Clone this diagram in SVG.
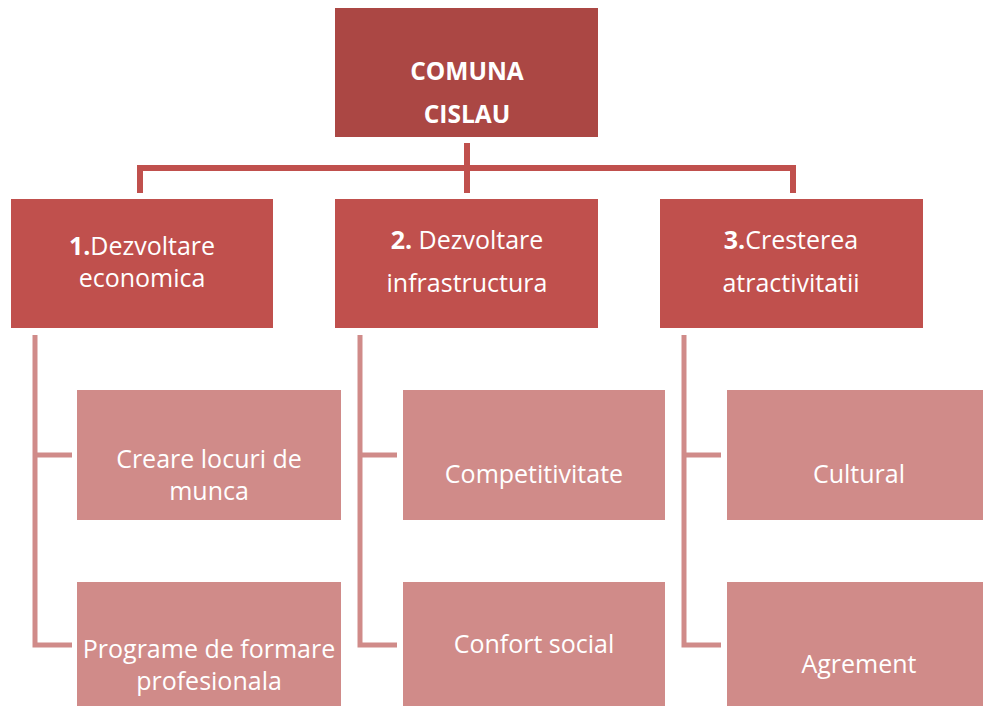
<svg xmlns="http://www.w3.org/2000/svg" width="983" height="706" viewBox="0 0 983 706">
<style>
.root{fill:#AB4744}
.l2{fill:#C0504D}
.l3{fill:#D08B89}
.t{fill:#fff;font-family:"Open Sans","Liberation Sans",sans-serif;text-anchor:middle}
.tr{font-size:24.5px;font-weight:bold}
.t2{font-size:25px}
.t3{font-size:25px}
.c1{stroke:#C0504D;stroke-width:6;fill:none}
.c2{stroke:#D08B89;stroke-width:5;fill:none}
</style>
<rect width="983" height="706" fill="#fff"/>
<g id="connectors">
<path class="c1" d="M467,143V193M140,193V168H793V193"/>
<path class="c2" d="M35,335V645H72M35,455H72"/>
<path class="c2" d="M360,335V645H397M360,455H397"/>
<path class="c2" d="M684,335V645H721M684,455H721"/>
</g>
<g id="root">
<rect class="root" x="335" y="8" width="263" height="129"/>
<text class="t tr" x="467" y="80">COMUNA</text>
<text class="t tr" x="467" y="123">CISLAU</text>
</g>
<g id="n1">
<rect class="l2" x="11" y="199" width="262" height="129"/>
<text class="t t2" x="142" y="255"><tspan font-weight="bold">1.</tspan>Dezvoltare</text>
<text class="t t2" x="142" y="287">economica</text>
</g>
<g id="n2">
<rect class="l2" x="335" y="199" width="263" height="129"/>
<text class="t t2" x="467" y="249"><tspan font-weight="bold">2.</tspan> Dezvoltare</text>
<text class="t t2" x="467" y="292">infrastructura</text>
</g>
<g id="n3">
<rect class="l2" x="660" y="199" width="263" height="129"/>
<text class="t t2" x="791" y="249"><tspan font-weight="bold">3.</tspan>Cresterea</text>
<text class="t t2" x="791" y="292">atractivitatii</text>
</g>
<g id="n1a">
<rect class="l3" x="77" y="390" width="264" height="130"/>
<text class="t t3" x="209" y="468">Creare locuri de</text>
<text class="t t3" x="209" y="500">munca</text>
</g>
<g id="n1b">
<rect class="l3" x="77" y="582" width="264" height="124"/>
<text class="t t3" x="209" y="658">Programe de formare</text>
<text class="t t3" x="209" y="690">profesionala</text>
</g>
<g id="n2a">
<rect class="l3" x="403" y="390" width="262" height="130"/>
<text class="t t3" x="534" y="483">Competitivitate</text>
</g>
<g id="n2b">
<rect class="l3" x="403" y="582" width="262" height="124"/>
<text class="t t3" x="534" y="653">Confort social</text>
</g>
<g id="n3a">
<rect class="l3" x="727" y="390" width="256" height="130"/>
<text class="t t3" x="859" y="483">Cultural</text>
</g>
<g id="n3b">
<rect class="l3" x="727" y="582" width="256" height="124"/>
<text class="t t3" x="859" y="673">Agrement</text>
</g>
</svg>
